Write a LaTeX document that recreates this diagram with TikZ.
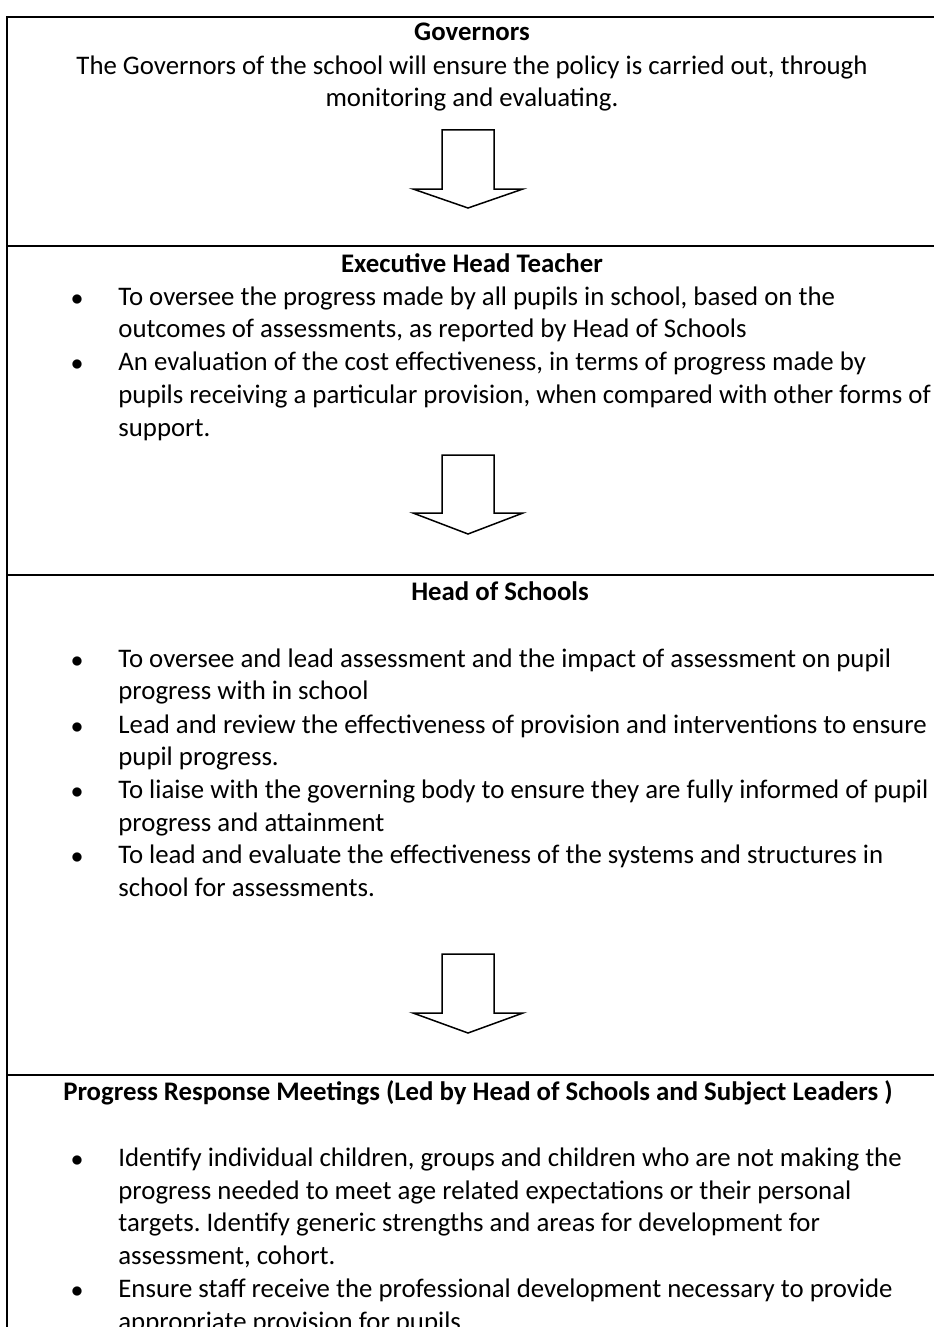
\documentclass[tikz,border=0pt]{standalone}
\usepackage{fontspec}
\setmainfont{Carlito}
\usetikzlibrary{positioning}
\frenchspacing

\newcommand{\cellfont}{\fontsize{13.4}{16.35}\selectfont}

\begin{document}
\begin{tikzpicture}[
    x=0.5pt, y=-0.5pt,
    frame/.style={line width=1pt},
    heading/.style={font=\cellfont\bfseries, inner sep=0pt, anchor=base},
    body/.style={font=\cellfont, inner sep=0pt, align=center, anchor=north},
    item/.style={font=\cellfont, inner sep=0pt, align=left, anchor=north west},
    dot/.style={font=\fontsize{11.5}{14}\selectfont, inner sep=0pt, anchor=base},
    blockarrow/.style={line width=0.75pt, line join=miter}
]
\useasboundingbox (0,0) rectangle (933,1327);

% Table frame and row rules
\draw[frame] (7,1340) -- (7,17) -- (940,17);
\draw[frame] (7,246) -- (940,246);
\draw[frame] (7,575) -- (940,575);
\draw[frame] (7,1075) -- (940,1075);

% Governors
\node (govhead) [heading] at (472,41) {Governors};
\node (govtext) [body] at (472,51) {\strut The Governors of the school will ensure the policy is carried out, through\\monitoring and evaluating.};

% Executive Head Teacher
\node (exechead) [heading] at (472,272) {Executive Head Teacher};
\node (execa) [item] at (118,282) {\strut To oversee the progress made by all pupils in school, based on the\\outcomes of assessments, as reported by Head of Schools};
\node [dot] at (77,305) {$\bullet$};
\node (execb) [item] at (118,347.5) {\strut An evaluation of the cost effectiveness, in terms of progress made by\\pupils receiving a particular provision, when compared with other forms of\\support.};
\node [dot] at (77,370.5) {$\bullet$};

% Head of Schools
\node (hoshead) [heading] at (500,600) {Head of Schools};
\node (hosa) [item] at (118,644) {\strut To oversee and lead assessment and the impact of assessment on pupil\\progress with in school};
\node [dot] at (77,667) {$\bullet$};
\node (hosb) [item] at (118,710) {\strut Lead and review the effectiveness of provision and interventions to ensure\\pupil progress.};
\node [dot] at (77,733) {$\bullet$};
\node (hosc) [item] at (118,775) {\strut To liaise with the governing body to ensure they are fully informed of pupil\\progress and attainment};
\node [dot] at (77,798) {$\bullet$};
\node (hosd) [item] at (118,840) {\strut To lead and evaluate the effectiveness of the systems and structures in\\school for assessments.};
\node [dot] at (77,863) {$\bullet$};

% Progress Response Meetings
\node (prmhead) [heading] at (478,1100) {Progress Response Meetings (Led by Head of Schools and Subject Leaders )};
\node (prma) [item] at (118,1143) {\strut Identify individual children, groups and children who are not making the\\progress needed to meet age related expectations or their personal\\targets. Identify generic strengths and areas for development for\\assessment, cohort.};
\node [dot] at (77,1166) {$\bullet$};
\node (prmb) [item] at (118,1274) {\strut Ensure staff receive the professional development necessary to provide\\appropriate provision for pupils};
\node [dot] at (77,1297) {$\bullet$};

% Down arrows between the rows
\draw[blockarrow] (442,130) -- (494,130) -- (494,189) -- (523,189) -- (468,208) -- (413,189) -- (442,189) -- cycle;
\draw[blockarrow] (442,455) -- (494,455) -- (494,513) -- (523,513) -- (468,534) -- (413,513) -- (442,513) -- cycle;
\draw[blockarrow] (442,954) -- (494,954) -- (494,1013) -- (523,1013) -- (468,1033) -- (413,1013) -- (442,1013) -- cycle;

\end{tikzpicture}
\end{document}
